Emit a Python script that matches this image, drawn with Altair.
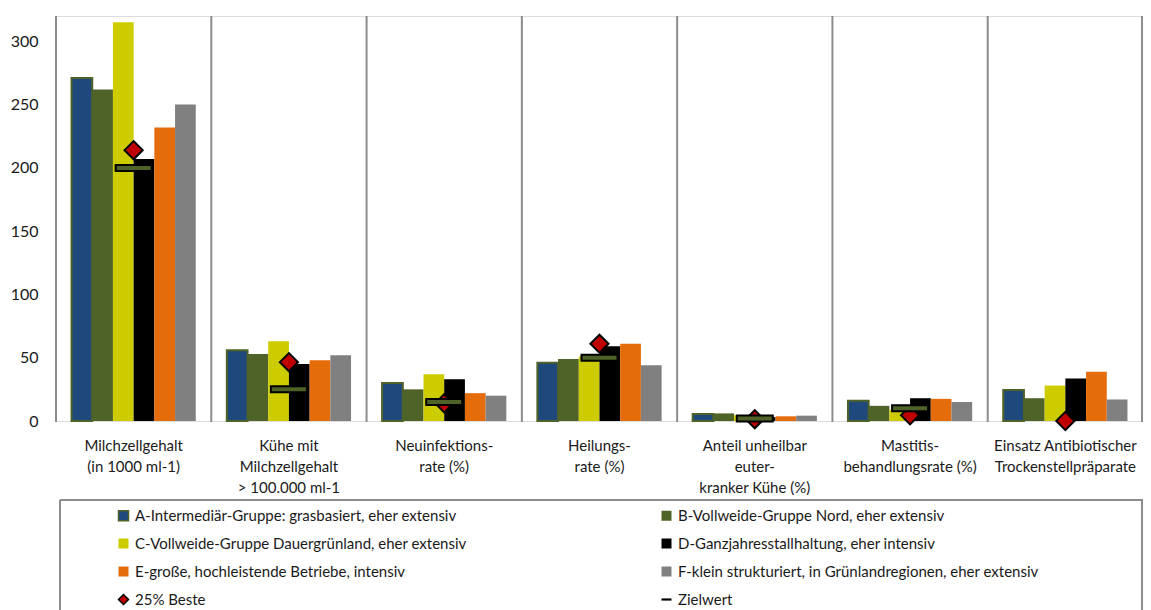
import altair as alt
import pandas as pd

categories = [
    "Milchzellgehalt|(in 1000 ml-1)",
    "Kühe mit|Milchzellgehalt|> 100.000 ml-1",
    "Neuinfektions-|rate (%)",
    "Heilungs-|rate (%)",
    "Anteil unheilbar|euter-|kranker Kühe (%)",
    "Mastitis-|behandlungsrate (%)",
    "Einsatz Antibiotischer|Trockenstellpräparate",
]

series_names = [
    "A-Intermediär-Gruppe: grasbasiert, eher extensiv",
    "B-Vollweide-Gruppe Nord, eher extensiv",
    "C-Vollweide-Gruppe Dauergrünland, eher extensiv",
    "D-Ganzjahresstallhaltung, eher intensiv",
    "E-große, hochleistende Betriebe, intensiv",
    "F-klein strukturiert, in Grünlandregionen, eher extensiv",
]
beste_name = "25% Beste"
ziel_name = "Zielwert"

vals_A = [271, 56, 30, 46, 5.5, 16, 24.5]
vals_B = [262, 53, 25, 49, 6, 12, 18]
vals_C = [315, 63, 37, 51, 4.5, 9, 28]
vals_D = [207, 45, 33, 59, 3, 18, 33.5]
vals_E = [232, 48, 22, 61, 3.7, 17.5, 39]
vals_F = [250, 52, 20, 44, 4.2, 15, 17]
beste = [214, 46.5, 14, 61, 1.4, 4.5, 0]
ziel = [200, 25, 15, 50, 2, 10, None]

y_ticks = [0, 50, 100, 150, 200, 250, 300]

colors = ["#1F497D", "#4F6228", "#CCCC00", "#000000", "#E46C0A", "#808080"]
legend_domain = series_names + [beste_name, ziel_name]
legend_colors = colors + ["#C00000", "#000000"]
legend_shapes = ["square"] * 6 + ["diamond", "M-1,-0.22L1,-0.22L1,0.22L-1,0.22Z"]

all_vals = [vals_A, vals_B, vals_C, vals_D, vals_E, vals_F]
bar_rows = []
for s, vs in zip(series_names, all_vals):
    for c, v in zip(categories, vs):
        bar_rows.append({"cat": c, "series": s, "value": v})
bars_df = pd.DataFrame(bar_rows)
beste_df = pd.DataFrame({"cat": categories, "series": beste_name, "value": beste})
ziel_df = pd.DataFrame([{"cat": c, "value": v} for c, v in zip(categories, ziel) if v is not None])
sep_df = pd.DataFrame({"cat": categories})
one = pd.DataFrame({"k": [0]})

W, H = 1087, 405
FONT = "Lato"

x_enc = alt.X(
    "cat:N",
    sort=categories,
    scale=alt.Scale(domain=categories, paddingInner=0, paddingOuter=0),
    axis=alt.Axis(
        title=None, labelAngle=0, domain=False, ticks=False, grid=False,
        labelExpr="split(datum.label, '|')", labelFontSize=15, labelLineHeight=21,
        labelPadding=17, labelBaseline="top", labelAlign="center",
        labelColor="#1a1a1a", labelLimit=300,
    ),
)
y_scale = alt.Scale(domain=[0, 320], nice=False, zero=True)
y_axis = alt.Axis(
    title=None, values=y_ticks, domain=False, ticks=False, grid=False,
    labelPadding=18, labelFontSize=16, labelColor="#1a1a1a",
)

stroke_expr = (
    "datum.value === '" + beste_name + "' ? 'black' : "
    "(datum.value === '" + series_names[0] + "' ? '#4F6228' : 'transparent')"
)
legend_common = dict(
    title=None, orient="none", legendX=60, legendY=492, columns=2,
    direction="horizontal", columnPadding=191, rowPadding=11,
    labelFontSize=15, labelFont=FONT, labelColor="#1a1a1a",
    symbolSize=100, padding=0, labelLimit=600,
    symbolStrokeColor={"expr": stroke_expr}, symbolStrokeWidth=1.5,
)

color_enc = alt.Color(
    "series:N",
    scale=alt.Scale(domain=legend_domain, range=legend_colors),
    legend=alt.Legend(**legend_common),
)
shape_enc = alt.Shape(
    "series:N",
    scale=alt.Scale(domain=legend_domain, range=legend_shapes),
    legend=alt.Legend(**legend_common),
)

seps = alt.Chart(sep_df).mark_rule(color="#8C8C8C", strokeWidth=2).encode(
    x=alt.X("cat:N", sort=categories, bandPosition=0),
    y=alt.value(0), y2=alt.value(H + 1),
)
sep_right = alt.Chart(one).mark_rule(color="#8C8C8C", strokeWidth=2).encode(
    x=alt.value(W - 1), y=alt.value(0), y2=alt.value(H + 1)
)

bars = alt.Chart(bars_df).mark_bar(strokeWidth=2).encode(
    x=x_enc,
    xOffset=alt.XOffset("series:N", sort=series_names,
                        scale=alt.Scale(domain=series_names, paddingInner=0, paddingOuter=0.75)),
    y=alt.Y("value:Q", scale=y_scale, axis=y_axis),
    color=color_enc,
    stroke=alt.condition(alt.datum.series == series_names[0], alt.value("#4F6228"), alt.value("transparent")),
)

diamonds = alt.Chart(beste_df).mark_point(
    filled=True, size=330, stroke="black", strokeWidth=2, opacity=1
).encode(
    x=alt.X("cat:N", sort=categories),
    y=alt.Y("value:Q", scale=y_scale),
    color=color_enc,
    shape=shape_enc,
)

ziel_marks = alt.Chart(ziel_df).mark_tick(
    orient="horizontal", size=36, thickness=6, color="#4F6228",
    stroke="black", strokeWidth=2, opacity=1,
).encode(
    x=alt.X("cat:N", sort=categories),
    y=alt.Y("value:Q", scale=y_scale),
)

box_style = dict(color="#8C8C8C", strokeWidth=2)
box_top = alt.Chart(one).mark_rule(**box_style).encode(
    x=alt.value(4), x2=alt.value(W), y=alt.value(484)
)
box_left = alt.Chart(one).mark_rule(**box_style).encode(
    x=alt.value(4), y=alt.value(484), y2=alt.value(620)
)
box_right = alt.Chart(one).mark_rule(**box_style).encode(
    x=alt.value(W - 1), y=alt.value(484), y2=alt.value(620)
)

chart = alt.layer(
    seps, sep_right, bars, diamonds, ziel_marks, box_top, box_left, box_right
).resolve_scale(
    color="shared", shape="shared"
).properties(
    width=W, height=H,
    autosize=alt.AutoSizeParams(type="none"),
    padding={"left": 48, "top": 8, "right": 0, "bottom": 189},
).configure_view(
    stroke=None
).configure(
    font=FONT
)

chart.save("out.html", embed_options={"renderer": "svg", "actions": False})
